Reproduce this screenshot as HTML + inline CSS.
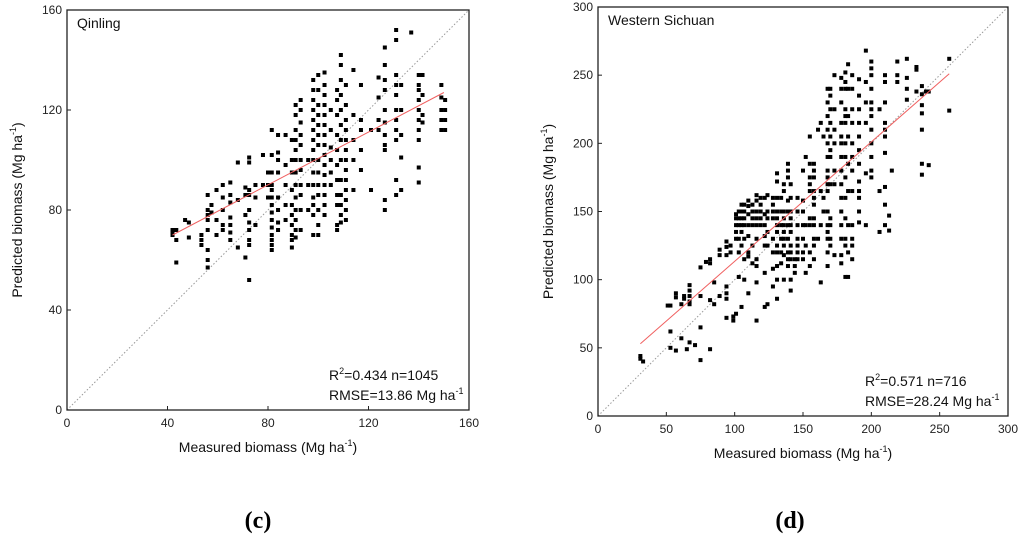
<!DOCTYPE html>
<html><head><meta charset="utf-8"><style>
body{margin:0;background:#fff;}
svg{display:block;font-family:"Liberation Sans",Arial,sans-serif;}
.tk{font-size:12px;fill:#222;}
.lab{font-size:14px;fill:#111;}
.cap{font-family:"Liberation Serif",serif;font-size:24px;font-weight:bold;fill:#000;}
</style></head><body>
<svg id="s" width="1024" height="534">
<g id="c1"></g>
<g id="c2"></g>
<text class="cap" x="258" y="528" text-anchor="middle">(<tspan font-style="normal">c</tspan>)</text>
<text class="cap" x="790" y="528" text-anchor="middle">(d)</text>
</svg>
<script>
// Qinling: columns of [measured, predicted...]
const qinCols=[
[42,70,72,71],[43.5,68,72,59],[47,76],[48.5,69,75],[53.5,70,66,68],
[56,86,80,78,76,72,64,60,57],[57.5,82,79],[59.5,88,76,70],[62,90,85,80,74,72],
[65,91,86,83,77,74,71,68],[68,99,84,65],[71,89,86,78,61],
[72.5,101,99,88,86,80,75,72,68,66,52],[75,90,85,74],[78,102,90],[80,95,90,85],
[81.5,112,102,95,90,88,85,82,79,76,73,70,68,66,64],[84,110,103,100,95,85,80,75,72],
[87,110,98,90,82,76],[89.5,108,100,95,88,82,78,74,70,68,65],
[91,122,118,112,108,104,100,95,90,85,80,76,72,69],[93,124,120,115,110,106,100,96,90,86,80,72],
[96,100,90,80],[98,132,128,124,120,116,112,108,104,100,95,90,85,82,78,70],
[100,134,128,122,118,114,110,106,100,95,90,86,80,74,70],
[102.5,135,130,126,122,118,114,110,106,102,98,94,90,86,82,78],
[105,120,112,105,100,95,90],[107.5,128,124,118,110,104,98,92,86,82,74,72],
[109,142,138,132,126,120,114,108,100,92,86,82,78,75],
[111,130,122,116,112,108,104,100,96,92,88,84,80,76],[114,136,118,108,100,88],
[117,130,116,112,104,96],[121,112,88],[124,133,125,116,112],
[126.5,145,138,132,128,120,115,110,106,104,84,80],[131,152,148,134,130,126,120,116,112,108,92,86],
[133,130,120,110,101,88],[137,151],[140,134,130,128,124,120,116,112,108,97,91],
[141.5,134,126,118,115],[149,130,125,120,116,112],[150.5,124,120,116,112]];
const qinFit=[[42,70],[150,127]];
const qinTicks=[0,40,80,120,160];
// Western Sichuan
const sicCols=[
[31,44,42],[33,40],[51,81],[53,81,62,50],[57,90,87,48],[61,82,57],[63,88,86],[65,49],
[67,96,92,88,84,82,54],[71,52],[75,109,88,65,41],[79,113],[82,115,112,85,49],[85,98,82],
[89,122,118,88],[94,128,124,118,95,90,86,72],[97,125,120],[99,70,73],
[101,148,145,140,135,130,75],[103,150,145,140,130,120,102],[105,155,150,145,140,135,125,80],
[107,155,150,145,140,130,115,100],[110,158,154,148,140,132,120,117,90],
[113,155,150,145,140,125,112],[116,162,158,150,145,140,130,115,110,98,70],
[119,160,155,150,145,140],[122,160,148,140,132,125,105,80],[124,162,150,145,135,125,82],
[128,160,155,150,145,130,120,108,95],[131,178,172,160,150,145,140,135,125,120,110,100,86],
[134,160,150,140,130,120,112],[136,170,165,150,145,140,135,130,125,118,100],
[139,185,180,175,158,150,140,130,120,115,110],[141,170,160,150,145,140,135,125,120,115,100,92],
[144,115,110,105],[146,160,150,140,130,125,120,115],[150,180,158,150,140,130,120,115],
[152,190,140,125,105],[155,205,185,175,170,165,145,140,120,110],
[158,185,180,175,165,160,155,145,140,130,125,115],[161,210,130],[163,215,165,140,98],
[165,205,160,150],[168,240,230,220,210,200,190,180,175,170,165,150,140,135,130,120,110],
[170,240,235,225,215,205,195,190,170,145,140,130,125],[173,250,225,210,200,180,170,118],
[178,248,240,230,215,205,200,190,180,170,160,150,140,130,118,112],
[181,252,245,240,225,220,215,200,190,175,160,145,130,125,102],
[183,258,240,220,205,185,165,140,120,102],[186,250,240,225,215,200,190,180,165,140,130,125,115],
[191,247,235,225,215,205,195,185,172,165,160,150,142],[196,268,245,230,215,178,140],
[200,260,255,250,240,230,225,220,210,200,190,180,175],[206,225,165,135],
[210,250,245,230,215,210,205,193,168,155,140],[213,147,136],[215,180],[219,260,250,245],
[226,262,248,240,232],[233,256,254,238],[237,242,236,228,222,210,185,177],[240,238],
[242,238,184],[257,262,224]];
const sicFit=[[31,53],[257,251]];
const sicTicks=[0,50,100,150,200,250,300];

const NS='http://www.w3.org/2000/svg';
function mk(p,t,a){const e=document.createElementNS(NS,t);for(const k in a)e.setAttribute(k,a[k]);p.appendChild(e);return e;}
function draw(g,o){
 const sx=v=>o.x0+(v-o.min)/(o.max-o.min)*(o.x1-o.x0);
 const sy=v=>o.y1-(v-o.min)/(o.max-o.min)*(o.y1-o.y0);
 mk(g,'line',{x1:sx(o.min),y1:sy(o.min),x2:sx(o.max),y2:sy(o.max),stroke:'#999','stroke-width':1,'stroke-dasharray':'1.5,2',});
 o.cols.forEach(c=>{for(let i=1;i<c.length;i++){
  const r=mk(g,'rect',{x:sx(c[0])-2,y:sy(c[i])-2,width:4,height:4,fill:'#000'});
  
  
 }});
 mk(g,'line',{x1:sx(o.fit[0][0]),y1:sy(o.fit[0][1]),x2:sx(o.fit[1][0]),y2:sy(o.fit[1][1]),stroke:'#f06060','stroke-width':1,});
 mk(g,'rect',{x:o.x0,y:o.y0,width:o.x1-o.x0,height:o.y1-o.y0,fill:'none',stroke:'#222','stroke-width':1.3,});
 o.ticks.forEach(t=>{
  mk(g,'line',{x1:sx(t),y1:o.y1,x2:sx(t),y2:o.y1-4,stroke:'#222'});
  mk(g,'line',{x1:o.x0,y1:sy(t),x2:o.x0+4,y2:sy(t),stroke:'#222'});
  const a=mk(g,'text',{x:sx(t),y:o.y1+17,'text-anchor':'middle',class:'tk'});a.textContent=t;
  
  const b=mk(g,'text',{x:o.x0-5,y:sy(t)+4,'text-anchor':'end',class:'tk'});b.textContent=t;
  
 });
 const tt=mk(g,'text',{x:o.x0+10,y:o.y0+18,class:'lab'});tt.textContent=o.title;
 
 const xl=mk(g,'text',{x:(o.x0+o.x1)/2,y:o.y1+42,'text-anchor':'middle',class:'lab'});
 xl.innerHTML='Measured biomass (Mg ha<tspan dy="-6" font-size="9">-1</tspan><tspan dy="6">)</tspan>';
 
 const cy=(o.y0+o.y1)/2;
 const yl=mk(g,'text',{x:0,y:0,'text-anchor':'middle',class:'lab',transform:`translate(${o.x0-45},${cy}) rotate(-90)`});
 yl.innerHTML='Predicted biomass (Mg ha<tspan dy="-6" font-size="9">-1</tspan><tspan dy="6">)</tspan>';
 
 const s1=mk(g,'text',{x:o.sx,y:o.y1-30,class:'lab'});
 s1.innerHTML='R<tspan dy="-6" font-size="9">2</tspan><tspan dy="6">='+o.r2+'</tspan>';
 
 const s2=mk(g,'text',{x:o.sx,y:o.y1-10,class:'lab'});
 s2.innerHTML='RMSE='+o.rmse+' Mg ha<tspan dy="-6" font-size="9">-1</tspan>';
 
}
draw(document.getElementById('c1'),{x0:67,x1:469,y0:10,y1:410,min:0,max:160,cols:qinCols,fit:qinFit,ticks:qinTicks,title:'Qinling',r2:'0.434 n=1045',rmse:'13.86',sx:329});
draw(document.getElementById('c2'),{x0:598,x1:1008,y0:7,y1:416,min:0,max:300,cols:sicCols,fit:sicFit,ticks:sicTicks,title:'Western Sichuan',r2:'0.571 n=716',rmse:'28.24',sx:865});
</script>
</body></html>
